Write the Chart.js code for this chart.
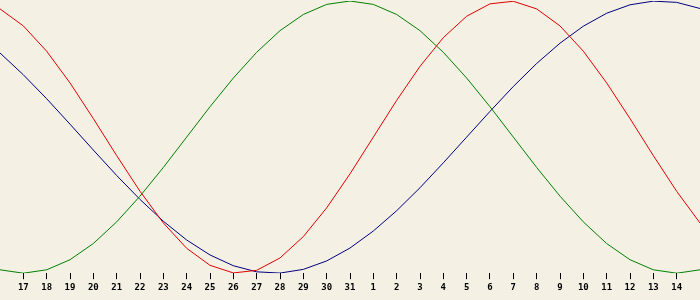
<!DOCTYPE html>
<html>
<head>
<meta charset="utf-8">
<script src="https://cdn.jsdelivr.net/npm/chart.js@4/dist/chart.umd.min.js"></script>
<style>
  body { margin: 0; background: #f4f0e4; }
  canvas { display: block; }
</style>
</head>
<body>
<canvas id="bio" width="700" height="300"></canvas>
<script>
// day positions (Jan 16 .. Feb 15) and the labels shown under them
const days = [16, 17, 18, 19, 20, 21, 22, 23, 24, 25, 26, 27, 28, 29, 30, 31,
              32, 33, 34, 35, 36, 37, 38, 39, 40, 41, 42, 43, 44, 45, 46];
const dayLabels = ['16', '17', '18', '19', '20', '21', '22', '23', '24', '25', '26', '27', '28', '29', '30', '31',
                   '1', '2', '3', '4', '5', '6', '7', '8', '9', '10', '11', '12', '13', '14', '15'];

// values in percent
const physical = [94.2, 81.7, 63.1, 39.8, 13.6, -13.6, -39.8, -63.1, -81.7, -94.2, -99.8, -97.9, -88.8, -73.1, -52.0, -27.0,
                  0, 27.0, 52.0, 73.1, 88.8, 97.9, 99.8, 94.2, 81.7, 63.1, 39.8, 13.6, -13.6, -39.8, -63.1];
const emotional = [-97.5, -100, -97.5, -90.1, -78.2, -62.3, -43.4, -22.3, 0, 22.3, 43.4, 62.3, 78.2, 90.1, 97.5, 100,
                   97.5, 90.1, 78.2, 62.3, 43.4, 22.3, 0, -22.3, -43.4, -62.3, -78.2, -90.1, -97.5, -100, -97.5];
const intellectual = [61.8, 45.8, 28.2, 9.5, -9.5, -28.2, -45.8, -61.8, -75.6, -86.6, -94.5, -99.0, -99.9, -97.2, -91.0, -81.5,
                      -69.0, -54.1, -37.2, -18.9, 0, 18.9, 37.2, 54.1, 69.0, 81.5, 91.0, 97.2, 99.9, 99.0, 94.5];

const birthText = '27/01/1956';
const todayText = '31-01-2025';
const today = 31;
const baseLine = -1.5;

function series(values, color) {
    return {
        data: values.map((v, i) => ({ x: days[i], y: v })),
        borderColor: color,
        borderWidth: 1,
        pointRadius: 0,
        tension: 0,
        fill: false
    };
}

// cross lines and corner texts
const decor = {
    id: 'decor',
    beforeDatasetsDraw(chart) {
        const ctx = chart.ctx;
        const area = chart.chartArea;
        const xs = chart.scales.x;
        const ys = chart.scales.y;
        ctx.save();
        ctx.strokeStyle = '#000';
        ctx.lineWidth = 1;
        const x = Math.round(xs.getPixelForValue(today)) + 0.5;
        const y = Math.round(ys.getPixelForValue(baseLine)) + 0.5;
        ctx.beginPath();
        ctx.moveTo(x, 0);
        ctx.lineTo(x, area.bottom);
        ctx.moveTo(0, y);
        ctx.lineTo(chart.width, y);
        ctx.stroke();
        ctx.restore();
    },
    afterDraw(chart) {
        const ctx = chart.ctx;
        ctx.save();
        ctx.fillStyle = '#000';
        ctx.font = '10px "DejaVu Sans Mono"';
        ctx.textBaseline = 'alphabetic';
        ctx.textAlign = 'left';
        ctx.fillText(birthText, 9, 21);
        ctx.fillText(todayText, 4, 266);
        ctx.textAlign = 'right';
        ctx.fillText('100%', 694, 16);
        ctx.fillText('-100%', 695, 266);
        ctx.restore();
    }
};

new Chart(document.getElementById('bio'), {
    type: 'line',
    data: {
        datasets: [
            series(physical, '#e00000'),
            series(emotional, '#008000'),
            series(intellectual, '#000080')
        ]
    },
    options: {
        responsive: false,
        animation: false,
        events: [],
        layout: { padding: { top: 1, bottom: 4, left: 0, right: 0 } },
        plugins: {
            legend: { display: false },
            tooltip: { enabled: false }
        },
        scales: {
            x: {
                type: 'linear',
                min: days[0],
                max: days[days.length - 1],
                afterBuildTicks(scale) {
                    scale.ticks = days.slice(1, -1).map(v => ({ value: v }));
                },
                grid: {
                    drawOnChartArea: false,
                    drawTicks: true,
                    tickLength: 6,
                    tickColor: '#000',
                    tickWidth: 1
                },
                border: { display: false },
                ticks: {
                    autoSkip: false,
                    maxRotation: 0,
                    padding: 3,
                    color: '#000',
                    font: { family: '"DejaVu Sans Mono"', size: 9, weight: 'bold' },
                    callback: v => dayLabels[days.indexOf(v)]
                }
            },
            y: {
                display: false,
                min: -100,
                max: 100
            }
        }
    }
});
</script>
</body>
</html>
